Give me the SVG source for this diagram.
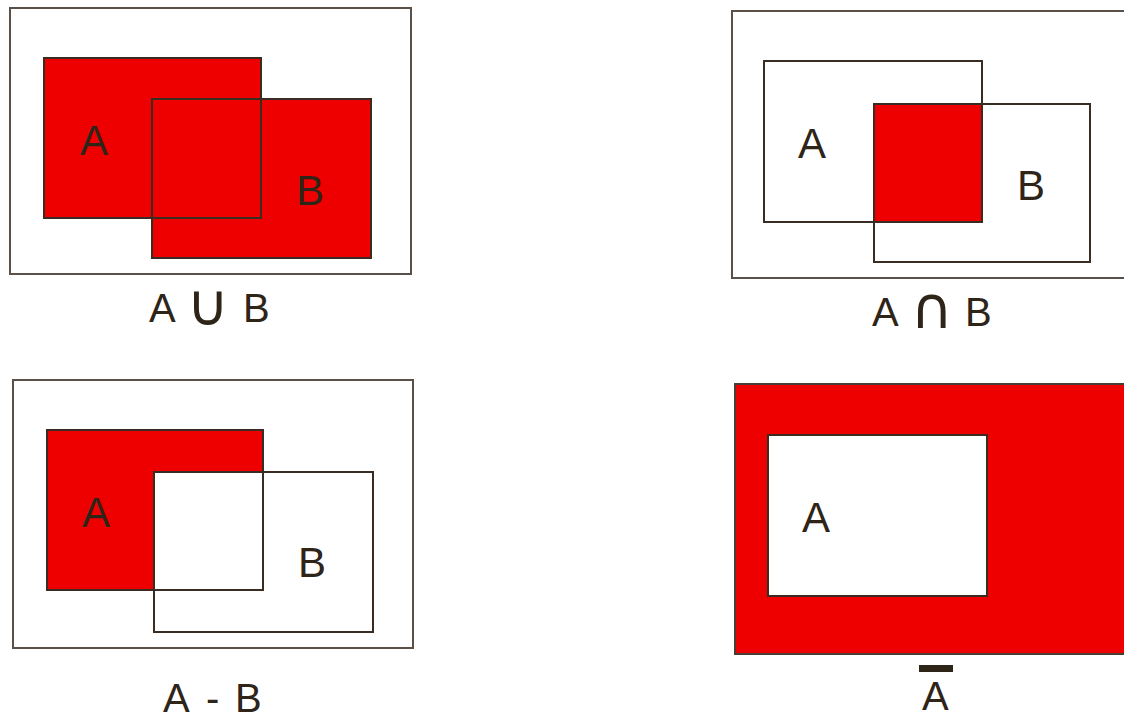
<svg xmlns="http://www.w3.org/2000/svg" width="1124" height="718" viewBox="0 0 1124 718">
<style>
.outer{fill:#fff;stroke:#5a5048;stroke-width:2}
.set{fill:none;stroke:#3a2c20;stroke-width:2}
.red{fill:#ee0000}
.lbl{font-family:"Liberation Sans","DejaVu Sans",sans-serif;font-size:42px;fill:#2e2418}
.cap{font-family:"Liberation Sans","DejaVu Sans",sans-serif;font-size:40px;fill:#2e2418}
.sym{font-family:"DejaVu Sans",sans-serif;font-size:58px;fill:#2e2418;text-anchor:middle}
</style>
<rect width="1124" height="718" fill="#fff"/>
<g id="union">
<rect class="outer" x="10" y="8" width="401" height="266"/>
<rect class="red" x="44" y="58" width="217" height="160"/>
<rect class="red" x="152" y="99" width="219" height="159"/>
<rect class="set" x="44" y="58" width="217" height="160"/>
<rect class="set" x="152" y="99" width="219" height="159"/>
<text class="lbl" x="80" y="155">A</text>
<text class="lbl" x="296" y="205">B</text>
<text class="cap" x="149" y="322">A</text>
<text class="sym" x="208" y="325">∪</text>
<text class="cap" x="243" y="322">B</text>
</g>
<g id="intersection">
<rect class="outer" x="732" y="11" width="410" height="267"/>
<rect class="set" x="764" y="61" width="218" height="161"/>
<rect class="red" x="874" y="104" width="108" height="118"/>
<rect class="set" x="874" y="104" width="216" height="158"/>
<rect class="set" x="874" y="104" width="108" height="118"/>
<text class="lbl" x="798" y="158">A</text>
<text class="lbl" x="1017" y="200">B</text>
<text class="cap" x="872" y="326">A</text>
<text class="sym" x="932" y="328">∩</text>
<text class="cap" x="965" y="326">B</text>
</g>
<g id="difference">
<rect class="outer" x="13" y="380" width="400" height="268"/>
<rect class="red" x="47" y="430" width="216" height="160"/>
<rect fill="#fff" x="154" y="472" width="109" height="118"/>
<rect class="set" x="47" y="430" width="216" height="160"/>
<rect class="set" x="154" y="472" width="219" height="160"/>
<text class="lbl" x="82" y="527">A</text>
<text class="lbl" x="298" y="577">B</text>
<text class="cap" x="163" y="712">A</text>
<text class="cap" x="206" y="712">-</text>
<text class="cap" x="235" y="712">B</text>
</g>
<g id="complement">
<rect x="735" y="384" width="410" height="270" fill="#ee0000" stroke="#4a3e34" stroke-width="2"/>
<rect x="768" y="435" width="219" height="161" fill="#fff" stroke="#3a2c20" stroke-width="2"/>
<text class="lbl" x="802" y="532">A</text>
<rect x="919" y="665" width="34" height="7" fill="#2e2418"/>
<text class="cap" x="922" y="710">A</text>
</g>
</svg>
